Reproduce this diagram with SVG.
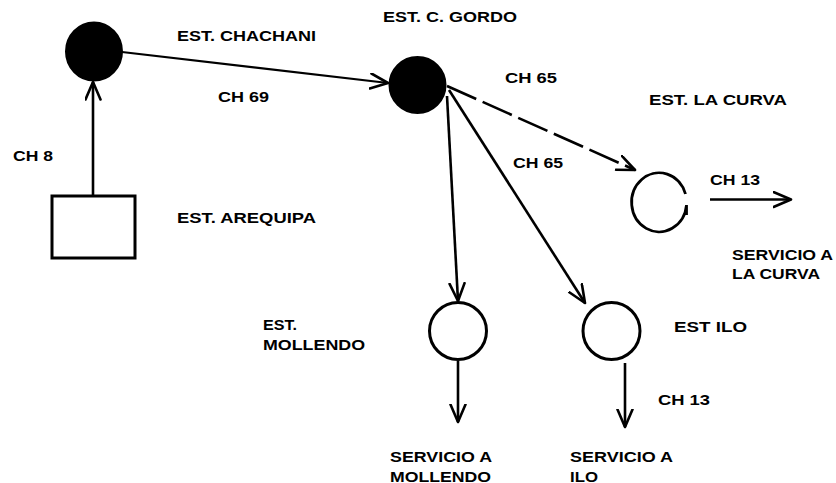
<svg xmlns="http://www.w3.org/2000/svg" width="836" height="483" viewBox="0 0 836 483">
<style>
  .t { font-family: "Liberation Sans", Arial, sans-serif; font-weight: bold; font-size: 15.5px; fill: #000; }
  .edge { fill: none; stroke: #000; stroke-width: 2.6; marker-end: url(#arr); }
  .node { stroke: #000; stroke-width: 3; }
</style>
<defs>
  <marker id="arr" markerUnits="userSpaceOnUse" viewBox="0 0 21 18" markerWidth="21" markerHeight="18" refX="18.5" refY="8.5" orient="auto">
    <path d="M1,1 L18.5,8.5 L1,16" fill="none" stroke="#000" stroke-width="2.6" stroke-linecap="round" stroke-linejoin="round"/>
  </marker>
</defs>
<rect width="836" height="483" fill="#fff"/>

<g id="connectors">
  <line class="edge" x1="93" y1="196" x2="93" y2="82"/>
  <line class="edge" x1="122" y1="52" x2="388" y2="83" style="stroke-width:2.2"/>
  <line class="edge" x1="447" y1="86" x2="635" y2="170" stroke-dasharray="32 7"/>
  <line class="edge" x1="447" y1="96" x2="458" y2="301"/>
  <line class="edge" x1="449" y1="90" x2="585" y2="303"/>
  <line class="edge" x1="710" y1="199.5" x2="791" y2="199.5"/>
  <line class="edge" x1="458" y1="361" x2="458" y2="422"/>
  <line class="edge" x1="625" y1="363" x2="625" y2="427"/>
  <text class="t" x="13" y="160.5" textLength="40" lengthAdjust="spacingAndGlyphs">CH 8</text>
  <text class="t" x="218" y="101.5" textLength="51" lengthAdjust="spacingAndGlyphs">CH 69</text>
  <text class="t" x="505" y="83" textLength="52" lengthAdjust="spacingAndGlyphs">CH 65</text>
  <text class="t" x="513" y="168" textLength="50" lengthAdjust="spacingAndGlyphs">CH 65</text>
  <text class="t" x="710" y="185" textLength="50" lengthAdjust="spacingAndGlyphs">CH 13</text>
  <text class="t" x="658" y="405" textLength="52" lengthAdjust="spacingAndGlyphs">CH 13</text>
</g>

<g id="est-arequipa">
  <rect class="node" x="52" y="196" width="83" height="62" fill="#fff"/>
  <text class="t" x="177" y="223" textLength="139" lengthAdjust="spacingAndGlyphs">EST. AREQUIPA</text>
</g>

<g id="est-chachani">
  <ellipse class="node" cx="94" cy="51.5" rx="27.5" ry="28.5" fill="#000"/>
  <text class="t" x="177" y="40.5" textLength="139" lengthAdjust="spacingAndGlyphs">EST. CHACHANI</text>
</g>

<g id="est-c-gordo">
  <circle class="node" cx="417.5" cy="85" r="27.5" fill="#000"/>
  <text class="t" x="383" y="21.5" textLength="134" lengthAdjust="spacingAndGlyphs">EST. C. GORDO</text>
</g>

<g id="est-la-curva">
  <path class="node" d="M685.5,194 A27.5,29.5 0 1,0 686.5,205 L686.5,215" fill="none" style="stroke-width:2.8"/>
  <text class="t" x="649" y="105" textLength="138" lengthAdjust="spacingAndGlyphs">EST. LA CURVA</text>
</g>

<g id="servicio-la-curva">
  <text class="t" x="732" y="260" textLength="101" lengthAdjust="spacingAndGlyphs">SERVICIO A</text>
  <text class="t" x="732" y="278.5" textLength="88" lengthAdjust="spacingAndGlyphs">LA CURVA</text>
</g>

<g id="est-mollendo">
  <circle class="node" cx="458" cy="331" r="28.5" fill="#fff"/>
  <text class="t" x="263" y="330" textLength="34" lengthAdjust="spacingAndGlyphs">EST.</text>
  <text class="t" x="263" y="350" textLength="102" lengthAdjust="spacingAndGlyphs">MOLLENDO</text>
</g>

<g id="servicio-mollendo">
  <text class="t" x="390" y="461.5" textLength="102" lengthAdjust="spacingAndGlyphs">SERVICIO A</text>
  <text class="t" x="390" y="481.5" textLength="101" lengthAdjust="spacingAndGlyphs">MOLLENDO</text>
</g>

<g id="est-ilo">
  <circle class="node" cx="611.5" cy="331" r="28.5" fill="#fff"/>
  <text class="t" x="674" y="331.5" textLength="73" lengthAdjust="spacingAndGlyphs">EST ILO</text>
</g>

<g id="servicio-ilo">
  <text class="t" x="570" y="461.5" textLength="103" lengthAdjust="spacingAndGlyphs">SERVICIO A</text>
  <text class="t" x="570" y="481.5" textLength="28" lengthAdjust="spacingAndGlyphs">ILO</text>
</g>
</svg>
